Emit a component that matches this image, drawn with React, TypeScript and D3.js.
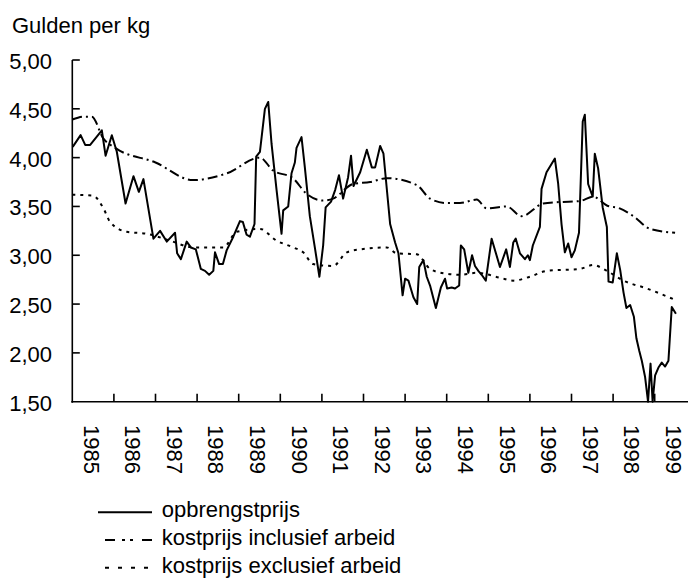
import React from 'react';
import * as d3 from 'd3';

// opbrengstprijs (monthly-ish as [year, gulden/kg])
const opbrengstprijs: [number, number][] = [
  [1985.01, 4.11], [1985.2, 4.23], [1985.31, 4.13], [1985.43, 4.13], [1985.71, 4.28],
  [1985.8, 4.02], [1985.95, 4.23], [1986.07, 4.06], [1986.28, 3.53], [1986.47, 3.81],
  [1986.6, 3.65], [1986.71, 3.78], [1986.95, 3.17], [1987.11, 3.25], [1987.27, 3.14],
  [1987.47, 3.23], [1987.52, 3.02], [1987.61, 2.96], [1987.75, 3.14], [1987.85, 3.08],
  [1987.97, 3.06], [1988.09, 2.86], [1988.19, 2.84], [1988.29, 2.8], [1988.39, 2.84],
  [1988.43, 3.03], [1988.53, 2.91], [1988.62, 2.91], [1988.71, 3.05], [1988.87, 3.19],
  [1989.03, 3.35], [1989.1, 3.34], [1989.19, 3.21], [1989.27, 3.19], [1989.38, 3.32],
  [1989.42, 4.01], [1989.51, 4.06], [1989.63, 4.5], [1989.71, 4.57], [1989.79, 4.14],
  [1989.91, 3.67], [1990.03, 3.22], [1990.07, 3.46], [1990.19, 3.5], [1990.27, 3.84],
  [1990.35, 3.95], [1990.39, 4.1], [1990.51, 4.21], [1990.59, 3.9], [1990.71, 3.4],
  [1990.83, 3.08], [1990.94, 2.78], [1991.03, 3.1], [1991.09, 3.49], [1991.22, 3.55],
  [1991.32, 3.67], [1991.41, 3.82], [1991.51, 3.58], [1991.63, 3.8], [1991.7, 4.02],
  [1991.76, 3.71], [1991.92, 3.85], [1992.08, 4.08], [1992.2, 3.9], [1992.28, 3.9],
  [1992.4, 4.12], [1992.48, 4.04], [1992.64, 3.32], [1992.76, 3.13], [1992.84, 3.02],
  [1992.94, 2.59], [1993.0, 2.76], [1993.08, 2.74], [1993.2, 2.57], [1993.29, 2.5],
  [1993.34, 2.88], [1993.44, 2.95], [1993.52, 2.78], [1993.6, 2.69], [1993.74, 2.46],
  [1993.86, 2.67], [1993.96, 2.76], [1994.01, 2.66], [1994.12, 2.67], [1994.2, 2.66],
  [1994.3, 2.69], [1994.34, 3.1], [1994.42, 3.06], [1994.52, 2.82], [1994.61, 3.0],
  [1994.68, 2.89], [1994.76, 2.84], [1994.84, 2.8], [1994.94, 2.74], [1995.08, 3.17],
  [1995.28, 2.88], [1995.43, 3.06], [1995.52, 2.88], [1995.6, 3.13], [1995.66, 3.17],
  [1995.76, 3.02], [1995.88, 2.96], [1995.95, 3.0], [1996.0, 2.95], [1996.07, 3.1],
  [1996.24, 3.29], [1996.28, 3.68], [1996.4, 3.85], [1996.6, 3.99], [1996.68, 3.73],
  [1996.76, 3.32], [1996.84, 3.03], [1996.92, 3.12], [1997.0, 2.98], [1997.08, 3.05],
  [1997.18, 3.23], [1997.27, 4.37], [1997.32, 4.44], [1997.4, 3.73], [1997.51, 3.6],
  [1997.56, 4.04], [1997.64, 3.89], [1997.75, 3.49], [1997.85, 3.29], [1997.89, 2.73],
  [1997.99, 2.72], [1998.09, 3.02], [1998.17, 2.85], [1998.25, 2.62], [1998.32, 2.46],
  [1998.41, 2.49], [1998.5, 2.37], [1998.56, 2.15], [1998.63, 2.02], [1998.69, 1.92],
  [1998.77, 1.75], [1998.84, 1.5], [1998.9, 1.89], [1998.95, 1.5], [1999.01, 1.77],
  [1999.09, 1.85], [1999.17, 1.9], [1999.25, 1.86], [1999.33, 1.92], [1999.41, 2.47],
  [1999.51, 2.4],
];

// kostprijs inclusief arbeid
const inclusief: [number, number][] = [
  [1985.0, 4.39], [1985.3, 4.42], [1985.47, 4.42], [1985.74, 4.2], [1986.03, 4.1],
  [1987.0, 3.95], [1987.9, 3.77], [1988.72, 3.84], [1989.51, 4.0], [1989.82, 3.87],
  [1990.3, 3.79], [1990.63, 3.63], [1991.03, 3.56], [1991.27, 3.58], [1991.75, 3.73],
  [1992.16, 3.75], [1992.56, 3.79], [1993.28, 3.72], [1993.6, 3.58], [1994.0, 3.535],
  [1994.32, 3.535], [1994.72, 3.57], [1994.96, 3.48], [1995.44, 3.5], [1995.8, 3.4],
  [1996.32, 3.53], [1996.72, 3.545], [1997.2, 3.555], [1997.52, 3.6], [1997.85, 3.51],
  [1998.16, 3.48], [1998.49, 3.4], [1998.89, 3.27], [1999.49, 3.23],
];

// kostprijs exclusief arbeid
const exclusief: [number, number][] = [
  [1985.0, 3.62], [1985.5, 3.61], [1985.75, 3.48], [1985.91, 3.34], [1986.31, 3.24],
  [1986.79, 3.22], [1987.35, 3.15], [1987.91, 3.08], [1988.63, 3.08], [1988.95, 3.24],
  [1989.51, 3.27], [1989.91, 3.15], [1990.31, 3.08], [1990.55, 3.03], [1990.79, 2.91],
  [1991.27, 2.89], [1991.6, 3.03], [1991.92, 3.06], [1992.56, 3.08], [1992.8, 3.02],
  [1993.28, 3.01], [1993.6, 2.86], [1994.0, 2.81], [1994.32, 2.8], [1994.72, 2.82],
  [1995.28, 2.77], [1995.6, 2.74], [1996.0, 2.78], [1996.4, 2.84], [1997.2, 2.86],
  [1997.52, 2.9], [1997.85, 2.84], [1998.25, 2.74], [1998.81, 2.66], [1999.45, 2.55],
];

const years = [1985, 1986, 1987, 1988, 1989, 1990, 1991, 1992, 1993, 1994, 1995, 1996, 1997, 1998, 1999];
const yTicks = [1.5, 2, 2.5, 3, 3.5, 4, 4.5, 5];

const legendItems = [
  { label: 'opbrengstprijs', dash: '' },
  { label: 'kostprijs inclusief arbeid', dash: '10,7,3,5,3,9,12' },
  { label: 'kostprijs exclusief arbeid', dash: '4,9' },
];

// no serif font is installed, Liberation Sans keeps the sizes closest
const FONT = "'Liberation Sans', Arial, sans-serif";

export default function App() {
  const x = d3.scaleLinear().domain([1985, 2000]).range([72.3, 696.3]);
  const y = d3.scaleLinear().domain([1.5, 5]).range([401.7, 60]);

  const straight = d3.line<[number, number]>()
    .x(d => x(d[0]))
    .y(d => y(d[1]));
  const smooth = d3.line<[number, number]>()
    .x(d => x(d[0]))
    .y(d => y(d[1]))
    .curve(d3.curveMonotoneX);

  const fmt = (v: number) => d3.format('.2f')(v).replace('.', ',');
  const x0 = x(1985);
  const yBottom = y(1.5);
  const txt = { fontFamily: FONT, fontSize: '22px' };

  return (
    <svg width={688} height={580} style={{ position: 'absolute', left: 0, top: 0, background: '#fff' }}>
      <text x={12} y={33} fill="#000" style={txt}>Gulden per kg</text>

      {/* y axis */}
      <line x1={x0} x2={x0} y1={y(5)} y2={yBottom + 1} stroke="#000" strokeWidth={1.6} />
      {yTicks.map(t => (
        <g key={t}>
          {t > 1.5 && <line x1={x0} x2={x0 + 7.5} y1={y(t)} y2={y(t)} stroke="#000" strokeWidth={1.6} />}
          <text x={52} y={y(t) + 9} textAnchor="end" fill="#000" style={txt}>{fmt(t)}</text>
        </g>
      ))}

      {/* x axis */}
      <line x1={x0 - 1} x2={688} y1={yBottom} y2={yBottom} stroke="#000" strokeWidth={1.6} />
      {years.slice(1).map(yr => (
        <line key={yr} x1={x(yr)} x2={x(yr)} y1={yBottom} y2={yBottom - 8} stroke="#000" strokeWidth={1.6} />
      ))}
      {years.map(yr => (
        <text key={yr} transform={`translate(${x(yr + 0.5) - 2},425) rotate(90)`}
          dominantBaseline="central" fill="#000" style={txt}>{yr}</text>
      ))}

      {/* series */}
      <path d={smooth(inclusief) ?? ''} fill="none" stroke="#000" strokeWidth={2} strokeDasharray="10,4,2,4" />
      <path d={smooth(exclusief) ?? ''} fill="none" stroke="#000" strokeWidth={2} strokeDasharray="3,5" />
      <path d={straight(opbrengstprijs) ?? ''} fill="none" stroke="#000" strokeWidth={2} strokeLinejoin="round" />

      {/* legend */}
      {legendItems.map((item, i) => {
        const ly = 512.3 + i * 27.7;
        return (
          <g key={item.label}>
            <line x1={i === 0 ? 98 : 105} x2={152} y1={ly} y2={ly} stroke="#000" strokeWidth={2}
              strokeDasharray={item.dash || undefined} />
            <text x={161.7} y={ly + 5} fill="#000" style={txt}>{item.label}</text>
          </g>
        );
      })}
    </svg>
  );
}
